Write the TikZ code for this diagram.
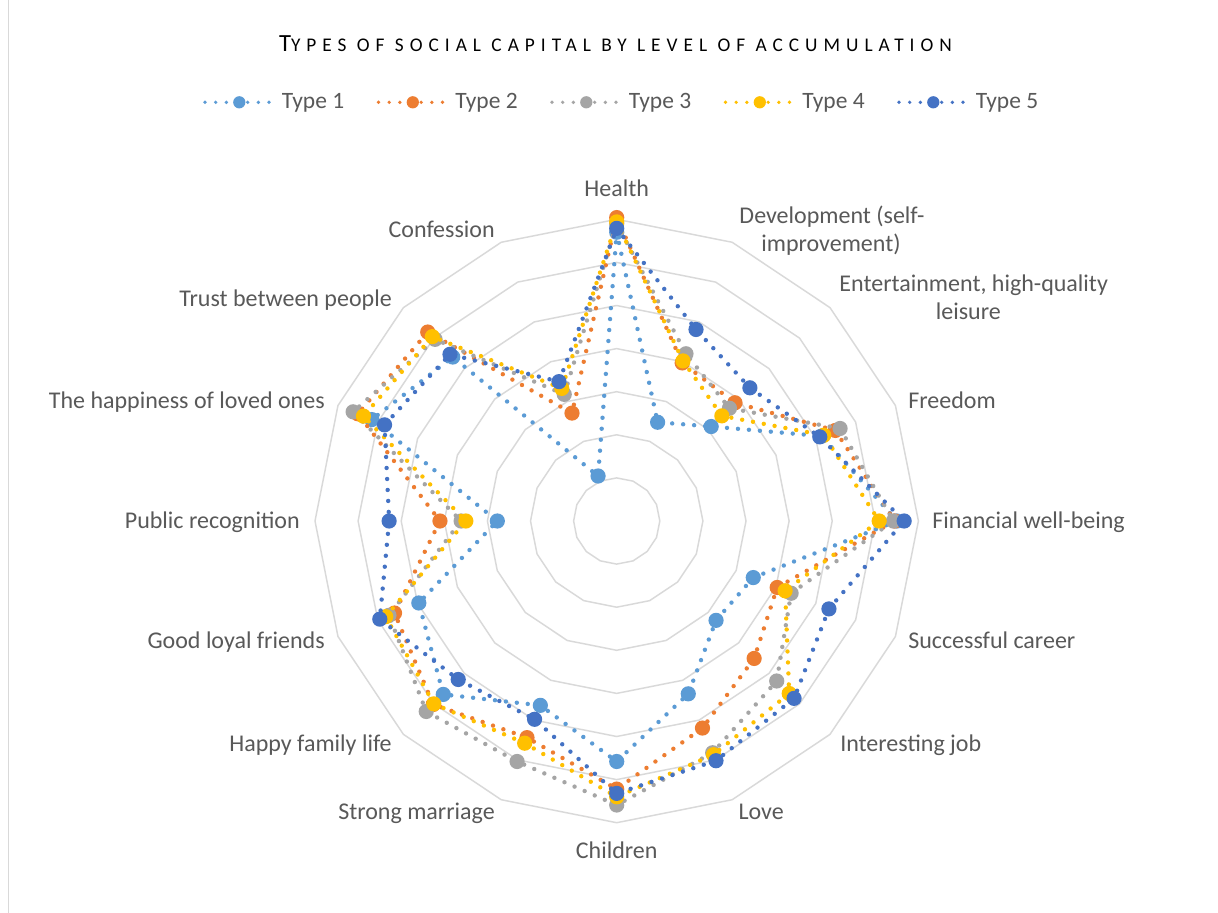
\documentclass[tikz,border=0pt]{standalone}
\usepackage{fontspec}
\setmainfont{Carlito}
\definecolor{cA}{HTML}{5B9BD5}
\definecolor{cB}{HTML}{ED7D31}
\definecolor{cC}{HTML}{A5A5A5}
\definecolor{cD}{HTML}{FFC000}
\definecolor{cE}{HTML}{4472C4}
\definecolor{gridc}{HTML}{D9D9D9}
\definecolor{labc}{HTML}{595959}
\tikzset{
  serline/.style={line width=3.3pt, dash pattern=on 0pt off 8.25pt, line cap=round},
  legline/.style={line width=2.8pt, dash pattern=on 0pt off 8pt, line cap=round},
  ring/.style={draw=gridc, line width=1.1pt, line join=miter},
  lab/.style={text=labc, inner sep=0pt, font=\fontsize{18pt}{21pt}\selectfont},
  leg/.style={text=labc, inner sep=0pt, font=\fontsize{17.6pt}{21pt}\selectfont},
}
\newcommand\seriesdraw[2]{%
  \foreach \v [count=\i from 0] in {#2} \coordinate (#1p\i) at ({\i*22.5-90}:{\v*43.1});
  \draw[serline,draw=#1] (#1p0) \foreach \i in {1,...,15}{ -- (#1p\i)} -- cycle;
  \foreach \i in {0,...,15} \fill[#1] (#1p\i) circle (5.7pt);
}
\begin{document}
\begin{tikzpicture}[x=0.75pt,y=-0.75pt]
\useasboundingbox (0,0) rectangle (1218,913);
\fill[white] (0,0) rectangle (1218,913);
\draw[gridc, line width=0.8pt] (8.5,0) -- (8.5,913);

% title
\node (title) [anchor=base, text=black, inner sep=0pt] at (615.5,51.7)
  {\fontsize{18.5pt}{20pt}\selectfont\addfontfeature{LetterSpace=24}T\fontsize{14.5pt}{16pt}\selectfont\addfontfeature{LetterSpace=31}YPES OF SOCIAL CAPITAL BY LEVEL OF ACCUMULATION};

% legend
\foreach \n/\c [count=\j from 0] in {Type 1/cA, Type 2/cB, Type 3/cC, Type 4/cD, Type 5/cE}{
  \coordinate (lgs\j) at (205+173.5*\j,102.3);
  \coordinate (lge\j) at (271+173.5*\j,102.3);
  \coordinate (lgm\j) at (239.3+173.5*\j,102.3);
  \draw[legline, draw=\c] (lgs\j) -- (lge\j);
  \fill[\c] (lgm\j) circle (4.6pt);
  \node (lgt\j) [leg, anchor=base west] at (281.7+173.5*\j,108.3) {\n};
}

\begin{scope}[shift={(616.7,521)}]
  \foreach \k in {1,...,7}
    \draw[ring] (-90:\k*43.1) \foreach \j in {1,...,15}{ -- ({\j*22.5-90}:\k*43.1)} -- cycle;
  \seriesdraw{cA}{6.7, 2.48, 3.1, 5.15, 6.5, 3.43, 3.26, 4.34, 5.58, 4.63, 5.69, 4.97, 2.77, 6.15, 5.38, 1.13}
  \seriesdraw{cB}{7.04, 3.97, 3.88, 5.49, 6.45, 4.03, 4.51, 5.2, 6.22, 5.44, 6.02, 5.58, 4.1, 6.5, 6.2, 2.71}
  \seriesdraw{cC}{6.9, 4.2, 3.7, 5.61, 6.42, 4.38, 5.25, 5.82, 6.59, 6.04, 6.25, 5.72, 3.61, 6.62, 5.96, 3.18}
  \seriesdraw{cD}{6.94, 4.02, 3.45, 5.2, 6.09, 4.23, 5.66, 5.87, 6.4, 5.58, 6.0, 5.8, 3.5, 6.36, 6.05, 3.33}
  \seriesdraw{cE}{6.79, 4.81, 4.37, 5.1, 6.67, 5.33, 5.82, 6.02, 6.32, 4.98, 5.2, 5.95, 5.28, 5.83, 5.47, 3.5}
\end{scope}

% axis labels
\node (lHealth) [lab, anchor=base] at (616.7,196.7) {Health};
\node (lDevA) [lab, anchor=base] at (832,223.3) {Development (self-};
\node (lDevB) [lab, anchor=base] at (831,251.7) {improvement)};
\node (lEntA) [lab, anchor=base] at (973.7,291.7) {Entertainment, high-quality};
\node (lEntB) [lab, anchor=base] at (968.3,320) {leisure};
\node (lFree) [lab, anchor=base west] at (908,408.5) {Freedom};
\node (lFin) [lab, anchor=base west] at (932,528.5) {Financial well-being};
\node (lCar) [lab, anchor=base west] at (908,648.5) {Successful career};
\node (lJob) [lab, anchor=base west] at (840,751.5) {Interesting job};
\node (lLove) [lab, anchor=base west] at (738.3,819.5) {Love};
\node (lChild) [lab, anchor=base] at (616.7,858.7) {Children};
\node (lMar) [lab, anchor=base east] at (495,819.5) {Strong marriage};
\node (lFam) [lab, anchor=base east] at (392,751.5) {Happy family life};
\node (lFri) [lab, anchor=base east] at (325,648.5) {Good loyal friends};
\node (lPub) [lab, anchor=base east] at (300,528.5) {Public recognition};
\node (lHap) [lab, anchor=base east] at (325,408.5) {The happiness of loved ones};
\node (lTru) [lab, anchor=base east] at (392,306.5) {Trust between people};
\node (lCon) [lab, anchor=base east] at (495,237.3) {Confession};
\end{tikzpicture}
\end{document}
